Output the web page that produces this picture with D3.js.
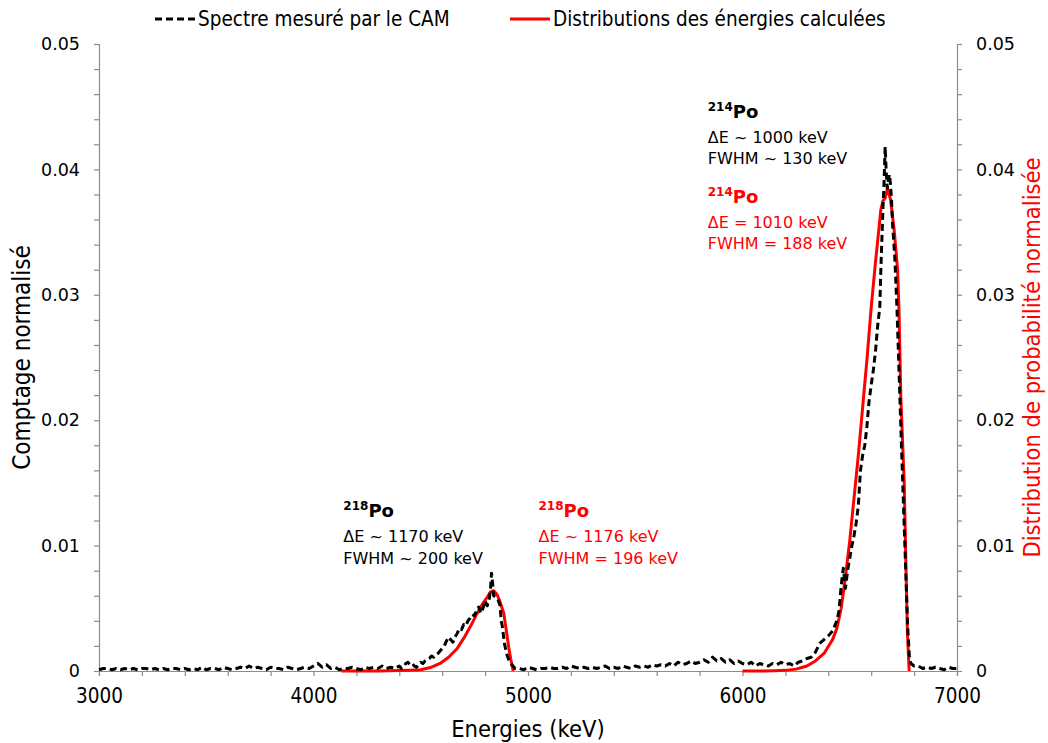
<!DOCTYPE html>
<html>
<head>
<meta charset="utf-8">
<script src="https://cdn.jsdelivr.net/npm/d3@7/dist/d3.min.js"></script>
<style>
  html, body { margin: 0; padding: 0; background: #fff; }
  svg { display: block; }
  .tick text { fill: #000; }
</style>
</head>
<body>
<svg id="chart" width="1048" height="743"></svg>
<script>
// Axis ticks
const energyTicks = [3000, 4000, 5000, 6000, 7000];
const countTicks = [0, 0.01, 0.02, 0.03, 0.04, 0.05];

// Spectrum measured by the CAM: [energy keV, normalised count]
const measuredSpectrum = [
  [3000,0.0001],[3020,0.0002],[3040,0.0002],[3060,0.0001],[3080,0.0002],[3100,0.0001],
  [3120,0.0002],[3140,0.0001],[3160,0.0002],[3180,0.0001],[3200,0.0002],[3220,0.0002],
  [3240,0.0001],[3260,0.0002],[3280,0.0001],[3300,0.0002],[3320,0.0001],[3340,0.0002],
  [3360,0.0002],[3380,0.0001],[3400,0.0002],[3420,0.0001],[3440,0.0002],[3460,0.0001],
  [3480,0.0003],[3500,0.0001],[3520,0.0002],[3540,0.0002],[3560,0.0001],[3580,0.0003],
  [3600,0.0002],[3620,0.0001],[3640,0.0002],[3660,0.0003],[3680,0.0002],[3700,0.0004],
  [3720,0.0002],[3740,0.0003],[3760,0.0002],[3780,0.0001],[3800,0.0003],[3820,0.0002],
  [3840,0.0002],[3860,0.0001],[3880,0.0003],[3900,0.0002],[3920,0.0001],[3940,0.0002],
  [3960,0.0003],[3980,0.0002],[4000,0.0004],[4020,0.0006],[4040,0.0003],[4060,0.0005],
  [4080,0.0002],[4100,0.0003],[4120,0.0001],[4140,0.0002],[4160,0.0002],[4180,0.0003],
  [4200,0.0002],[4220,0.0001],[4240,0.0003],[4260,0.0002],[4280,0.0003],[4300,0.0002],
  [4320,0.0004],[4340,0.0002],[4360,0.0003],[4380,0.0002],
  [4400,0.0004],[4410,0.0002],[4420,0.0003],[4430,0.0006],[4440,0.0007],[4450,0.0005],
  [4460,0.0006],[4470,0.0004],[4480,0.0003],[4490,0.0005],[4500,0.0007],[4510,0.0006],
  [4520,0.0008],[4530,0.0009],[4540,0.0010],[4550,0.0012],[4560,0.0011],[4570,0.0013],
  [4580,0.0014],[4590,0.0016],[4600,0.0018],[4610,0.0020],[4620,0.0024],[4630,0.0027],
  [4640,0.0025],[4650,0.0023],[4660,0.0027],[4670,0.0030],[4680,0.0034],[4690,0.0033],
  [4700,0.0037],[4710,0.0036],[4720,0.0040],[4730,0.0042],[4740,0.0045],[4750,0.0044],
  [4760,0.0048],[4770,0.0051],[4780,0.0046],[4790,0.0050],[4800,0.0056],[4810,0.0052],
  [4820,0.0058],[4825,0.0065],[4830,0.0078],[4835,0.0070],[4840,0.0060],[4850,0.0059],
  [4860,0.0057],[4870,0.0052],[4875,0.0040],[4880,0.0036],[4890,0.0022],[4900,0.0014],
  [4910,0.0009],[4920,0.0006],[4930,0.0004],[4940,0.0002],[4950,0.0002],
  [4960,0.0002],[4980,0.0001],[5000,0.0003],[5020,0.0002],[5040,0.0001],[5060,0.0002],
  [5080,0.0002],[5100,0.0003],[5120,0.0002],[5140,0.0002],[5160,0.0003],[5180,0.0002],
  [5200,0.0004],[5220,0.0003],[5240,0.0002],[5260,0.0003],[5280,0.0002],[5300,0.0003],
  [5320,0.0002],[5340,0.0003],[5360,0.0004],[5380,0.0002],[5400,0.0003],[5420,0.0002],
  [5440,0.0004],[5460,0.0003],[5480,0.0002],[5500,0.0004],[5520,0.0003],[5540,0.0004],
  [5560,0.0003],[5580,0.0005],[5600,0.0004],[5620,0.0005],[5640,0.0004],[5660,0.0006],
  [5680,0.0004],[5700,0.0007],[5720,0.0005],[5740,0.0006],[5760,0.0008],[5780,0.0006],
  [5800,0.0007],[5820,0.0009],[5840,0.0007],[5860,0.0011],[5880,0.0008],[5900,0.0010],
  [5920,0.0007],[5940,0.0009],[5960,0.0006],[5980,0.0008],[6000,0.0006],[6020,0.0005],
  [6040,0.0007],[6060,0.0004],[6080,0.0006],[6100,0.0005],[6120,0.0004],[6140,0.0006],
  [6160,0.0005],[6180,0.0007],[6200,0.0005],[6220,0.0006],[6240,0.0004],[6260,0.0007],
  [6280,0.0008],[6300,0.0010],[6320,0.0011],[6340,0.0015],[6360,0.0022],[6380,0.0025],
  [6400,0.0028],[6410,0.0030],[6420,0.0032],[6430,0.0036],[6440,0.0040],[6450,0.0048],
  [6460,0.0068],[6470,0.0082],[6480,0.0066],[6490,0.0080],[6500,0.0090],[6510,0.0100],
  [6520,0.0108],[6530,0.0118],[6540,0.0132],[6550,0.0160],[6560,0.0172],[6570,0.0180],
  [6580,0.0195],[6590,0.0215],[6600,0.0228],[6610,0.0240],[6620,0.0255],[6630,0.0275],
  [6640,0.0290],[6645,0.0320],[6650,0.0345],[6655,0.0370],[6660,0.0390],[6665,0.0418],
  [6670,0.0398],[6675,0.0385],[6680,0.0392],[6685,0.0396],[6690,0.0388],[6695,0.0375],
  [6700,0.0355],[6710,0.0330],[6720,0.0290],[6730,0.0238],[6740,0.0185],[6750,0.0135],
  [6760,0.0085],[6770,0.0035],[6778,0.0012],[6785,0.0006],[6800,0.0004],[6820,0.0004],
  [6840,0.0002],[6860,0.0003],[6880,0.0002],[6900,0.0003],[6920,0.0002],[6940,0.0001],
  [6960,0.0003],[6980,0.0002],[7000,0.0002]
];

// Calculated energy distributions: [energy keV, normalised probability]
const calc218Po = [
  [4130,0],[4200,0],[4300,0],[4400,0.00003],[4450,0.00006],[4500,0.0001],[4550,0.0003],
  [4590,0.0006],[4630,0.0011],[4670,0.0018],[4700,0.0026],[4730,0.0035],[4760,0.0045],
  [4790,0.0054],[4810,0.0059],[4825,0.0063],[4840,0.0064],[4856,0.0061],[4870,0.0055],
  [4887,0.0046],[4900,0.0031],[4910,0.0019],[4920,0.0009],[4931,0]
];
const calc214Po = [
  [6000,0],[6100,0],[6150,0.00002],[6200,0.00005],[6250,0.00015],[6300,0.0004],
  [6340,0.0008],[6380,0.0014],[6420,0.0025],[6440,0.0034],[6460,0.0050],[6480,0.0075],
  [6500,0.0104],[6520,0.0138],[6540,0.0172],[6560,0.0210],[6580,0.0248],[6600,0.0290],
  [6620,0.0326],[6645,0.0368],[6655,0.0375],[6665,0.0377],[6676,0.0385],[6690,0.0376],
  [6707,0.0352],[6723,0.0320],[6730,0.0285],[6738,0.0219],[6754,0.0150],[6762,0.0083],
  [6769,0.0030],[6777,0]
];

// Peak annotations (anchor in data units)
const peakNotes = [
  { energy: 4139, count: 0.01225, colour: "#000", iso: "218", lines: ["ΔE ~ 1170 keV", "FWHM ~ 200 keV"] },
  { energy: 5049, count: 0.01225, colour: "#ff0000", iso: "218", lines: ["ΔE ~ 1176 keV", "FWHM = 196 keV"] },
  { energy: 5838, count: 0.04410, colour: "#000", iso: "214", lines: ["ΔE ~ 1000 keV", "FWHM ~ 130 keV"] },
  { energy: 5838, count: 0.03735, colour: "#ff0000", iso: "214", lines: ["ΔE = 1010 keV", "FWHM = 188 keV"] }
];

const legendItems = [
  { label: "Spectre mesuré par le CAM", colour: "#000", dash: "7,4" },
  { label: "Distributions des énergies calculées", colour: "#ff0000", dash: null }
];

const W = 1048, H = 743;
const margin = { top: 44, right: 91, bottom: 72, left: 99 };
const svg = d3.select("#chart");

const x = d3.scaleLinear().domain([3000, 7000]).range([margin.left, W - margin.right]);
const y = d3.scaleLinear().domain([0, 0.05]).range([H - margin.bottom, margin.top]);

const axisColour = "#8c8c8c";
const condensed = "'Liberation Sans Narrow','DejaVu Sans Condensed','Open Sans',sans-serif";
const labelFont = "'DejaVu Sans',Verdana,sans-serif";

const xMinor = d3.range(3000, 7001, 200);
const yMinor = d3.range(0, 0.05001, 0.002).map(v => +v.toFixed(3));
const isMajorX = v => energyTicks.includes(v);
const isMajorY = v => countTicks.some(t => Math.abs(t - v) < 1e-9);
const fmtY = v => v === 0 ? "0" : v.toFixed(2);

function styleAxis(g) {
  g.select(".domain").attr("stroke", axisColour).attr("stroke-width", 1.2);
  g.selectAll(".tick line").attr("stroke", axisColour).attr("stroke-width", 1.2);
}

// x axis
svg.append("g")
  .attr("transform", `translate(0,${y(0)})`)
  .call(d3.axisBottom(x).tickValues(xMinor).tickSize(5).tickPadding(12)
    .tickFormat(v => isMajorX(v) ? String(v) : ""))
  .call(styleAxis)
  .call(g => g.selectAll("text").attr("font-family", condensed).attr("font-size", 20.5));

// left axis
svg.append("g")
  .attr("transform", `translate(${x(3000)},0)`)
  .call(d3.axisLeft(y).tickValues(yMinor).tickSize(5).tickPadding(14)
    .tickFormat(v => isMajorY(v) ? fmtY(v) : ""))
  .call(styleAxis)
  .call(g => g.selectAll("text").attr("font-family", labelFont).attr("font-size", 17.5));

// right axis
svg.append("g")
  .attr("transform", `translate(${x(7000)},0)`)
  .call(d3.axisRight(y).tickValues(yMinor).tickSize(5).tickPadding(14)
    .tickFormat(v => isMajorY(v) ? fmtY(v) : ""))
  .call(styleAxis)
  .call(g => g.selectAll("text").attr("font-family", labelFont).attr("font-size", 17.5));

// axis titles
svg.append("text")
  .attr("x", (x(3000) + x(7000)) / 2).attr("y", 737)
  .attr("text-anchor", "middle")
  .attr("font-family", condensed).attr("font-size", 23.5)
  .text("Energies (keV)");

svg.append("text")
  .attr("transform", `translate(30,${(y(0) + y(0.05)) / 2}) rotate(-90)`)
  .attr("text-anchor", "middle")
  .attr("font-family", condensed).attr("font-size", 24)
  .text("Comptage normalisé");

svg.append("text")
  .attr("transform", `translate(1040,${(y(0) + y(0.05)) / 2}) rotate(-90)`)
  .attr("text-anchor", "middle")
  .attr("font-family", condensed).attr("font-size", 23.5)
  .attr("fill", "#ff0000")
  .text("Distribution de probabilité normalisée");

// curves
const line = d3.line().x(d => x(d[0])).y(d => y(d[1]));

[calc218Po, calc214Po].forEach(series => {
  svg.append("path")
    .datum(series)
    .attr("d", line)
    .attr("fill", "none")
    .attr("stroke", "#ff0000")
    .attr("stroke-width", 3)
    .attr("stroke-linejoin", "round");
});

svg.append("path")
  .datum(measuredSpectrum)
  .attr("d", line)
  .attr("fill", "none")
  .attr("stroke", "#000")
  .attr("stroke-width", 3)
  .attr("stroke-dasharray", "7,4")
  .attr("stroke-linejoin", "round");

// annotations
peakNotes.forEach(n => {
  const g = svg.append("g")
    .attr("transform", `translate(${x(n.energy)},${y(n.count)})`)
    .attr("fill", n.colour)
    .attr("font-family", labelFont);
  const t = g.append("text").attr("font-weight", "bold");
  t.append("tspan").attr("font-size", 12).attr("dy", -7).text(n.iso);
  t.append("tspan").attr("font-size", 18).attr("dy", 7).text("Po");
  n.lines.forEach((s, i) => {
    g.append("text").attr("y", 25 + i * 21.5).attr("font-size", 16).text(s);
  });
});

// legend
const legendX = [155, 510];
legendItems.forEach((item, i) => {
  const g = svg.append("g").attr("transform", `translate(${legendX[i]},19)`);
  g.append("line").attr("x1", 0).attr("x2", 40)
    .attr("stroke", item.colour).attr("stroke-width", 3)
    .attr("stroke-dasharray", item.dash);
  g.append("text").attr("x", 43).attr("y", 7)
    .attr("font-family", condensed).attr("font-size", 20.5)
    .text(item.label);
});
</script>
</body>
</html>
